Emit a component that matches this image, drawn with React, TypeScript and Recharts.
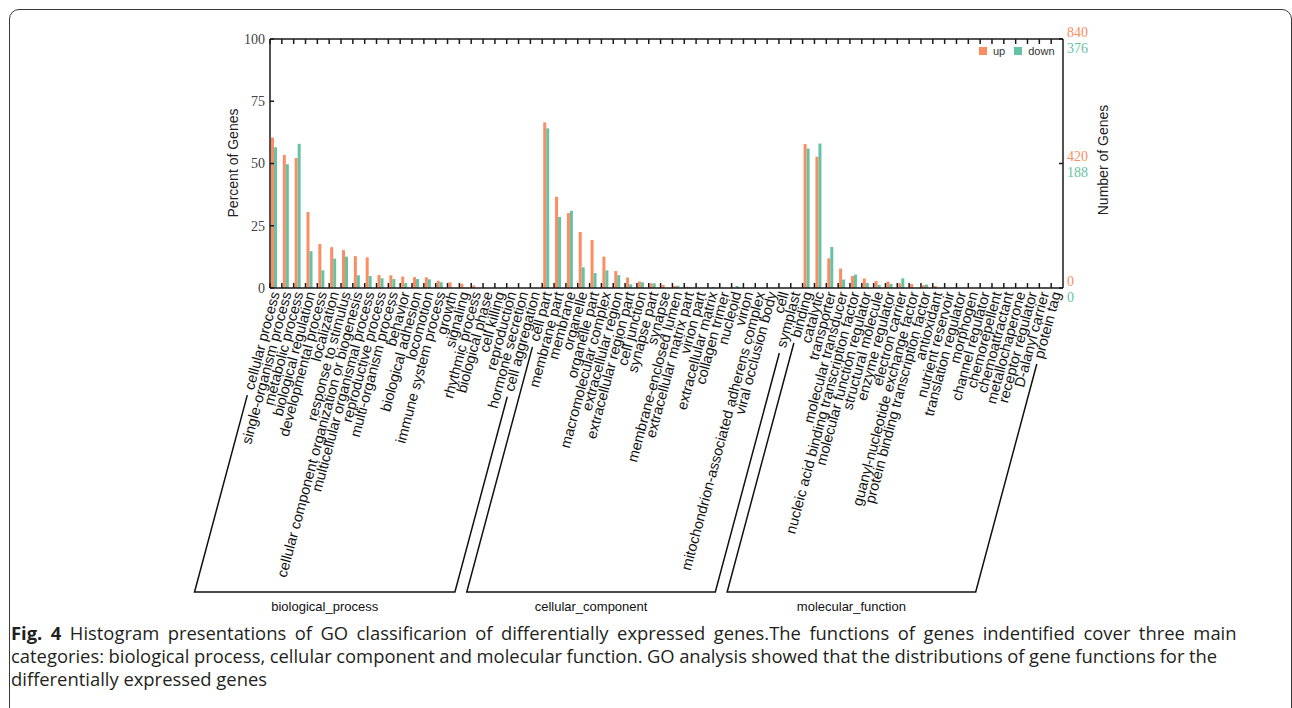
import React, { useMemo } from 'react';
import { BarChart, Bar, XAxis, YAxis, Legend, ReferenceLine } from 'recharts';

// ---------- data ----------
const bpTerms = [
  'cellular process', 'single-organism process', 'metabolic process', 'biological regulation',
  'developmental process', 'localization', 'response to stimulus',
  'cellular component organization or biogenesis', 'multicellular organismal process',
  'reproductive process', 'multi-organism process', 'behavior', 'biological adhesion',
  'locomotion', 'immune system process', 'growth', 'signaling', 'rhythmic process',
  'biological phase', 'cell killing', 'reproduction', 'hormone secretion', 'cell aggregation',
];
const bpUp = [60.4, 53.4, 52.2, 30.5, 17.7, 16.4, 15.2, 12.8, 12.3, 5.2, 5.1, 4.6, 4.4, 4.3, 2.9, 2.3, 1.7, 1.0, 0, 0, 0, 0, 0];
const bpDown = [56.5, 49.7, 57.9, 14.8, 7.1, 11.8, 12.6, 5.1, 4.8, 3.9, 3.6, 2.0, 3.6, 3.5, 2.3, 0, 0, 0, 0, 0, 0, 0, 0];

const ccTerms = [
  'cell part', 'membrane part', 'membrane', 'organelle', 'organelle part',
  'macromolecular complex', 'extracellular region', 'extracellular region part',
  'cell junction', 'synapse part', 'synapse', 'membrane-enclosed lumen',
  'extracellular matrix part', 'virion part', 'extracellular matrix', 'collagen trimer',
  'nucleoid', 'virion', 'mitochondrion-associated adherens complex', 'viral occlusion body',
  'cell', 'symplast',
];
const ccUp = [66.5, 36.6, 30.1, 22.5, 19.3, 12.6, 6.8, 4.2, 2.6, 1.9, 1.2, 0.9, 0.5, 0, 0, 0, 0, 0, 0, 0, 0, 0];
const ccDown = [64.1, 28.5, 31.0, 8.3, 6.0, 7.1, 5.2, 1.5, 2.3, 1.9, 0, 0.9, 0.3, 0, 0.4, 0, 0.8, 0, 0, 0, 0, 0];

const mfTerms = [
  'binding', 'catalytic', 'transporter', 'molecular transducer',
  'nucleic acid binding transcription factor', 'molecular function regulator',
  'structural molecule', 'enzyme regulator', 'electron carrier',
  'guanyl-nucleotide exchange factor', 'protein binding transcription factor', 'antioxidant',
  'nutrient reservoir', 'translation regulator', 'morphogen', 'channel regulator',
  'chemorepellent', 'chemoattractant', 'metallochaperone', 'receptor regulator',
  'D-alanyl carrier', 'protein tag',
];
const mfUp = [57.8, 52.7, 11.9, 7.8, 4.8, 3.8, 2.8, 2.6, 1.9, 1.6, 1.1, 0.8, 0, 0, 0, 0, 0, 0, 0, 0, 0, 0];
const mfDown = [56.0, 58.0, 16.5, 3.4, 5.4, 2.0, 1.2, 1.7, 3.9, 0, 1.4, 0, 0, 0, 0, 0, 0, 0, 0, 0, 0, 0];

const groupNames = ['biological_process', 'cellular_component', 'molecular_function'];
const groupTerms = [bpTerms, ccTerms, mfTerms];
const seriesOrder = ['up', 'down'];

const percentTicks = [0, 25, 50, 75, 100];
const upCountTicks = [0, 420, 840];
const downCountTicks = [0, 188, 376];

const captionLines = [
  'Histogram presentations of GO classificarion of differentially expressed genes.The functions of genes indentified cover three main',
  'categories: biological process, cellular component and molecular function. GO analysis showed that the distributions of gene functions for the',
  'differentially expressed genes',
];

const terms = [...bpTerms, ...ccTerms, ...mfTerms];
const upValues = [...bpUp, ...ccUp, ...mfUp];
const downValues = [...bpDown, ...ccDown, ...mfDown];
const data = terms.map((name, i) => ({ name, up: upValues[i], down: downValues[i] }));

// ---------- style / layout ----------
const UP_COLOR = '#fc8d62';
const DOWN_COLOR = '#66c2a5';
const AXIS_COLOR = '#1a1a1a';
const SANS = '"Liberation Sans", Arial, sans-serif';
const SERIF = '"Liberation Serif", "DejaVu Serif", serif';
const LABEL_SIZE = 14.5;
const ANGLE = 75;

const W = 1292;
const CH = 600;
const PLOT_LEFT = 270;
const PLOT_RIGHT = 1063;
const PLOT_TOP = 39;
const PLOT_BOTTOM = 288;
const BRACKET_BOTTOM = 592;

const rad = (ANGLE * Math.PI) / 180;
const DX = -Math.cos(rad);
const DY = Math.sin(rad);

const CategoryTick = (props: any) => {
  const { x, y, payload } = props;
  const half = payload && payload.offset ? payload.offset : (PLOT_RIGHT - PLOT_LEFT) / terms.length / 2;
  const bx = x - half;
  return (
    <g>
      <line x1={bx} x2={bx} y1={y} y2={y - 5} stroke={AXIS_COLOR} strokeWidth={1.5} />
      <line x1={bx} x2={bx} y1={PLOT_TOP} y2={PLOT_TOP + 5} stroke={AXIS_COLOR} strokeWidth={1.5} />
      <text
        transform={`translate(${x - 1},${y + 4}) rotate(${-ANGLE})`}
        textAnchor="end"
        dy="0.35em"
        fontSize={LABEL_SIZE}
        fontFamily={SANS}
        fill="#111"
      >
        {payload.value}
      </text>
    </g>
  );
};

const PercentTick = (props: any) => {
  const { x, y, payload } = props;
  return (
    <g>
      <line x1={x} x2={x + 4} y1={y} y2={y} stroke={AXIS_COLOR} strokeWidth={1.5} />
      <text x={x - 5} y={y} dy="0.35em" textAnchor="end" fontSize={14} fontFamily={SERIF} fill="#444">
        {payload.value}
      </text>
    </g>
  );
};

const CountTick = (props: any) => {
  const { x, y, payload } = props;
  const idx = upCountTicks.indexOf(payload.value);
  return (
    <g>
      <line x1={x} x2={x - 4} y1={y} y2={y} stroke={AXIS_COLOR} strokeWidth={1.5} />
      <text x={x + 4} y={y - 7} dy="0.35em" textAnchor="start" fontSize={14} fontFamily={SERIF} fill={UP_COLOR}>
        {payload.value}
      </text>
      <text x={x + 4} y={y + 9} dy="0.35em" textAnchor="start" fontSize={14} fontFamily={SERIF} fill={DOWN_COLOR}>
        {idx >= 0 ? downCountTicks[idx] : ''}
      </text>
    </g>
  );
};

const LegendContent = (props: any) => {
  const items = (props.payload || [])
    .filter((p: any) => seriesOrder.includes(p.value))
    .sort((a: any, b: any) => seriesOrder.indexOf(a.value) - seriesOrder.indexOf(b.value));
  return (
    <div
      style={{
        position: 'absolute', left: 979, top: 45, display: 'flex', alignItems: 'center',
        fontFamily: SANS, fontSize: 11, color: '#333', whiteSpace: 'nowrap', lineHeight: '12px',
      }}
    >
      {items.map((it: any) => (
        <div key={it.value} style={{ display: 'flex', alignItems: 'center', marginRight: 9 }}>
          <span style={{ display: 'inline-block', width: 8, height: 8, background: it.color, marginRight: 6 }} />
          <span>{it.value}</span>
        </div>
      ))}
    </div>
  );
};

const Overlay = () => {
  const widths = useMemo(() => {
    const ctx = document.createElement('canvas').getContext('2d');
    if (!ctx) return terms.map((t) => t.length * 7);
    ctx.font = `${LABEL_SIZE}px "Liberation Sans", Arial, sans-serif`;
    return terms.map((t) => ctx.measureText(t).width);
  }, []);
  const band = (PLOT_RIGHT - PLOT_LEFT) / terms.length;
  const endPoint = (i: number) => ({ x: PLOT_LEFT + (i + 0.5) * band - 1, y: PLOT_BOTTOM + 4 });
  const topOf = (i: number) => {
    const e = endPoint(i);
    const t = widths[i] + 6;
    return { x: e.x + DX * t, y: e.y + DY * t };
  };
  const bottomOf = (i: number) => {
    const e = endPoint(i);
    const t = (BRACKET_BOTTOM - e.y) / DY;
    return { x: e.x + DX * t, y: BRACKET_BOTTOM };
  };
  let start = 0;
  const brackets = groupTerms.map((g, gi) => {
    const f = start;
    const l = start + g.length - 1;
    start += g.length;
    const tf = topOf(f), bf = bottomOf(f), tl = topOf(l), bl = bottomOf(l);
    return { name: groupNames[gi], tf, bf, tl, bl };
  });
  return (
    <svg width={W} height={708} style={{ position: 'absolute', left: 0, top: 0, pointerEvents: 'none' }}>
      <text transform="translate(233,163) rotate(-90)" textAnchor="middle" dy="0.35em" fontSize={14} fontFamily={SANS} fill="#222">
        Percent of Genes
      </text>
      <text transform="translate(1103,160) rotate(-90)" textAnchor="middle" dy="0.35em" fontSize={14} fontFamily={SANS} fill="#222">
        Number of Genes
      </text>
      {brackets.map((b) => (
        <g key={b.name}>
          <polyline
            points={`${b.tf.x},${b.tf.y} ${b.bf.x},${b.bf.y} ${b.bl.x},${b.bl.y} ${b.tl.x},${b.tl.y}`}
            fill="none"
            stroke="#111"
            strokeWidth={1.5}
          />
          <text x={(b.bf.x + b.bl.x) / 2} y={606} dy="0.35em" textAnchor="middle" fontSize={13} fontFamily={SANS} fill="#111">
            {b.name}
          </text>
        </g>
      ))}
    </svg>
  );
};

const captionLine: React.CSSProperties = {
  position: 'absolute', left: 11, height: 22, lineHeight: '22px', whiteSpace: 'nowrap',
  fontFamily: '"Open Sans", sans-serif', fontSize: 18.4, color: '#231f20',
};

export default function App() {
  return (
    <div style={{ position: 'absolute', left: 0, top: 0, width: W, height: 708, background: '#fff', overflow: 'hidden' }}>
      <div
        style={{
          position: 'absolute', left: 9, top: 9, width: 1283, height: 760, boxSizing: 'border-box',
          border: '1.5px solid #3a3a3a', borderRadius: 10,
        }}
      />
      <div style={{ position: 'absolute', left: 0, top: 0 }}>
        <BarChart
          width={W}
          height={CH}
          data={data}
          margin={{ top: PLOT_TOP, left: PLOT_LEFT - 60, right: W - PLOT_RIGHT - 60, bottom: 0 }}
          barCategoryGap={1}
          barGap={0}
        >
          <XAxis
            dataKey="name"
            type="category"
            interval={0}
            height={CH - PLOT_BOTTOM}
            tickSize={0}
            tickMargin={0}
            tickLine={false}
            axisLine={{ stroke: AXIS_COLOR, strokeWidth: 1.5 }}
            tick={<CategoryTick />}
          />
          <YAxis
            yAxisId="pct"
            domain={[0, 100]}
            ticks={percentTicks}
            width={60}
            tickSize={0}
            tickMargin={0}
            tickLine={false}
            axisLine={{ stroke: AXIS_COLOR, strokeWidth: 1.5 }}
            tick={<PercentTick />}
          />
          <YAxis
            yAxisId="count"
            orientation="right"
            domain={[0, 840]}
            ticks={upCountTicks}
            allowDataOverflow
            width={60}
            tickSize={0}
            tickMargin={0}
            tickLine={false}
            axisLine={{ stroke: AXIS_COLOR, strokeWidth: 1.5 }}
            tick={<CountTick />}
          />
          <ReferenceLine yAxisId="pct" y={100} stroke={AXIS_COLOR} strokeWidth={1.5} />
          <Legend
            content={<LegendContent />}
            wrapperStyle={{ left: 0, top: 0, width: 0, height: 0 }}
          />
          <Bar yAxisId="pct" dataKey="up" name="up" fill={UP_COLOR} isAnimationActive={false} />
          <Bar yAxisId="pct" dataKey="down" name="down" fill={DOWN_COLOR} isAnimationActive={false} />
          <Bar yAxisId="count" dataKey="spacer" name="spacer" legendType="none" fill="none" isAnimationActive={false} />
        </BarChart>
      </div>
      <Overlay />
      <div style={{ ...captionLine, top: 622, wordSpacing: 3.7 }}>
        <b>Fig. 4</b> {captionLines[0]}
      </div>
      <div style={{ ...captionLine, top: 645, wordSpacing: -0.3 }}>{captionLines[1]}</div>
      <div style={{ ...captionLine, top: 668 }}>{captionLines[2]}</div>
    </div>
  );
}
